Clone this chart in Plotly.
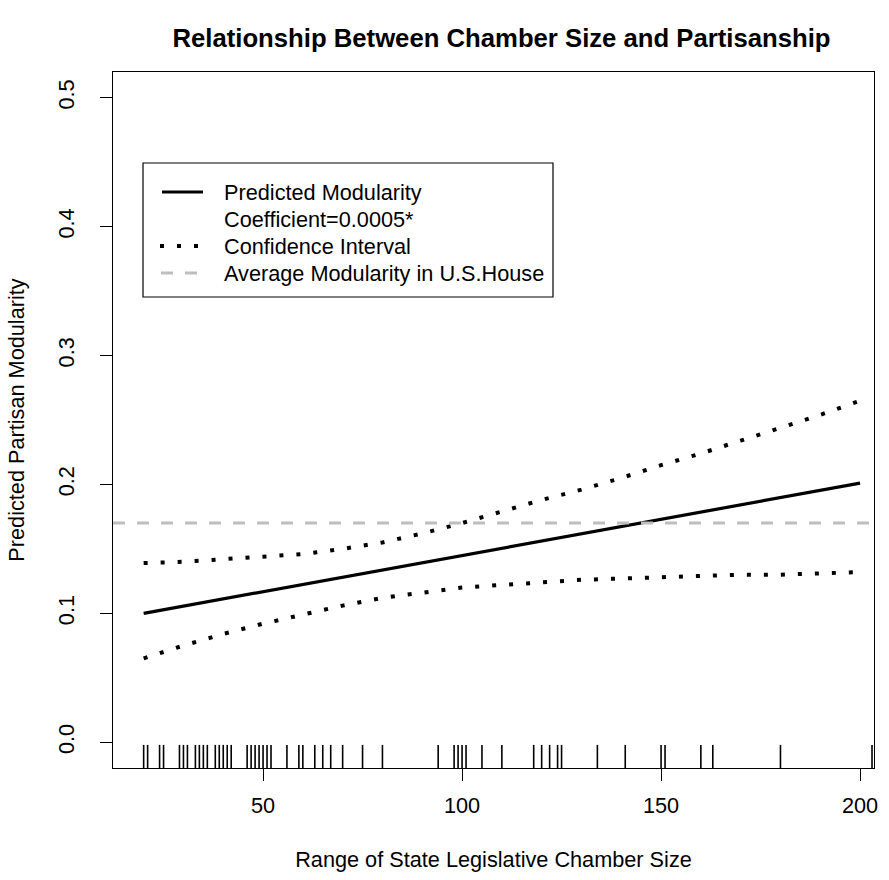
import plotly.graph_objects as go

# ---------------- data ----------------
grid_x = [20, 30, 40, 50, 60, 70, 80, 90, 100, 110, 120, 130, 140, 150, 160, 170, 180, 190, 200]
predicted = [0.1000, 0.1056, 0.1112, 0.1168, 0.1224, 0.1281, 0.1337, 0.1393, 0.1449, 0.1505,
             0.1561, 0.1617, 0.1673, 0.1729, 0.1785, 0.1842, 0.1898, 0.1954, 0.2010]
ci_upper = [0.139, 0.140, 0.142, 0.144, 0.146, 0.150, 0.155, 0.162, 0.170, 0.179,
            0.188, 0.196, 0.205, 0.215, 0.224, 0.234, 0.244, 0.254, 0.265]
ci_lower = [0.065, 0.075, 0.084, 0.092, 0.099, 0.106, 0.112, 0.116, 0.120, 0.122,
            0.124, 0.126, 0.127, 0.128, 0.129, 0.130, 0.130, 0.131, 0.132]
house_avg = 0.17
chamber_sizes = [20, 21, 24, 25, 29, 30, 31, 33, 34, 35, 36, 38, 39, 40, 41, 42, 46, 47, 48,
                 49, 50, 51, 52, 56, 59, 60, 63, 65, 67, 70, 75, 80, 94, 98, 99, 100, 101,
                 105, 110, 118, 120, 122, 124, 125, 134, 141, 150, 151, 160, 163, 180, 203]

x_ticks = [50, 100, 150, 200]
x_tick_labels = ["50", "100", "150", "200"]
y_ticks = [0.0, 0.1, 0.2, 0.3, 0.4, 0.5]
y_tick_labels = ["0.0", "0.1", "0.2", "0.3", "0.4", "0.5"]
x_range = [12.3, 203.5]
y_range = [-0.02, 0.52]

title = "Relationship Between Chamber Size and Partisanship"
x_title = "Range of State Legislative Chamber Size"
y_title = "Predicted Partisan Modularity"
legend_labels = ["Predicted Modularity", "Coefficient=0.0005*", "Confidence Interval",
                 "Average Modularity in U.S.House"]

FONT = "Liberation Sans, Arial, Helvetica, sans-serif"
GREY = "#BEBEBE"
FS = 21.7

fig = go.Figure()

fig.add_trace(go.Scatter(x=grid_x, y=predicted, mode="lines",
                         line=dict(color="black", width=3.2), showlegend=False))
fig.add_trace(go.Scatter(x=grid_x, y=ci_upper, mode="lines",
                         line=dict(color="black", width=4, dash="4px,13px"), showlegend=False))
fig.add_trace(go.Scatter(x=grid_x, y=ci_lower, mode="lines",
                         line=dict(color="black", width=4, dash="4px,13px"), showlegend=False))
# rug
fig.add_trace(go.Scatter(x=chamber_sizes, y=[y_range[0]] * len(chamber_sizes), mode="markers",
                         marker=dict(symbol="line-ns", size=33,
                                     line=dict(color="black", width=1.6)),
                         cliponaxis=True, showlegend=False))

# average line in U.S. House
fig.add_shape(type="line", xref="paper", x0=0, x1=1, yref="y", y0=house_avg, y1=house_avg,
              line=dict(color=GREY, width=3, dash="12px,12px"))

# ---------------- legend (drawn manually) ----------------
L, R, T, B = 113, 874, 72, 768
def px(x):
    return (x - L) / (R - L)
def py(y):
    return (B - y) / (B - T)

fig.add_shape(type="rect", xref="paper", yref="paper",
              x0=px(143), x1=px(553), y0=py(297), y1=py(163),
              line=dict(color="black", width=1.2), fillcolor="white", layer="above")
rows_y = [192, 219.5, 246, 273]
fig.add_shape(type="line", xref="paper", yref="paper", x0=px(162), x1=px(203),
              y0=py(rows_y[0]), y1=py(rows_y[0]), line=dict(color="black", width=3.2))
fig.add_shape(type="line", xref="paper", yref="paper", x0=px(160), x1=px(205),
              y0=py(rows_y[2]), y1=py(rows_y[2]), line=dict(color="black", width=4, dash="4px,13px"))
fig.add_shape(type="line", xref="paper", yref="paper", x0=px(161), x1=px(205),
              y0=py(rows_y[3]), y1=py(rows_y[3]), line=dict(color=GREY, width=3, dash="12px,12px"))
for lab, yy in zip(legend_labels, rows_y):
    fig.add_annotation(xref="paper", yref="paper", x=px(222), y=py(yy), text=lab,
                       showarrow=False, xanchor="left", yanchor="middle",
                       font=dict(family=FONT, size=FS, color="black"))

fig.update_layout(
    width=889, height=880,
    margin=dict(l=113, r=15, t=72, b=112),
    paper_bgcolor="white", plot_bgcolor="white",
    font=dict(family=FONT, size=FS, color="black"),
    title=dict(text="<b>" + title + "</b>", x=((L + R) / 2 + 8) / 889, xanchor="center",
               y=1 - 38 / 880, yanchor="middle", font=dict(family=FONT, size=25.7, color="black")),
    xaxis=dict(range=x_range, tickvals=x_ticks, ticktext=x_tick_labels, ticks="outside",
               ticklen=12, tickwidth=1, tickcolor="black", showline=True, mirror=True,
               linecolor="black", linewidth=1.2, showgrid=False, zeroline=False,
               ticklabelstandoff=6,
               tickfont=dict(size=FS), title=dict(text=x_title, standoff=34, font=dict(size=FS))),
    yaxis=dict(range=y_range, tickvals=y_ticks, ticktext=y_tick_labels, ticks="outside",
               ticklen=12, tickwidth=1, tickcolor="black", showline=True, mirror=True,
               linecolor="black", linewidth=1.2, showgrid=False, zeroline=False, tickangle=-90,
               ticklabelstandoff=17,
               tickfont=dict(size=FS), title=dict(text=y_title, standoff=23, font=dict(size=FS))),
)

fig.write_html("out.html", config={"displayModeBar": False},
               post_script="document.body.style.margin='0';document.body.style.padding='0';")
